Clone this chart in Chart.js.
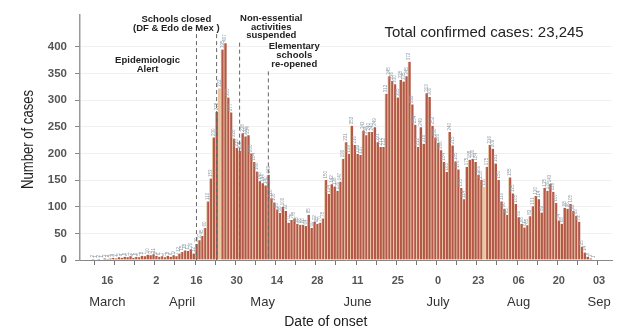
<!DOCTYPE html>
<html>
<head>
<meta charset="utf-8">
<script src="https://cdn.jsdelivr.net/npm/chart.js@4"></script>
<style>
  html, body { margin: 0; background: #fff; }
  #wrap { width: 621px; height: 328px; }
</style>
</head>
<body>
<div id="wrap"><canvas id="casesChart"></canvas></div>
<script>
/* Daily confirmed cases by date of onset, 7 Mar - 7 Sep */

const firstDay = new Date(2020, 2, 7);
const lastDay = new Date(2020, 8, 7);
const days = [];
for (let d = new Date(firstDay); d <= lastDay; d.setDate(d.getDate() + 1)) {
  days.push(d.getFullYear() + '-' + String(d.getMonth() + 1).padStart(2, '0') + '-' + String(d.getDate()).padStart(2, '0'));
}

// one value per day, starting 7 Mar
const cases = [
  // March 7-31
  0, 0, 0, 0, 2, 1, 2, 1, 3, 2, 3, 4, 3, 5, 4, 6, 5, 7, 4, 6, 5, 8, 7, 10, 9,
  // April
  11, 8, 6, 7, 5, 8, 6, 9, 7, 12, 15, 18, 17, 20, 12, 30, 37, 45, 60, 110,
  153, 230, 278, 322, 395, 407, 305, 277, 228, 210,
  // May
  205, 238, 232, 234, 200, 184, 166, 148, 144, 140, 160, 116, 108, 95, 88, 100,
  92, 70, 75, 78, 68, 66, 66, 64, 85, 60, 72, 68, 70, 78, 150,
  // June
  124, 142, 138, 130, 147, 190, 221, 199, 252, 216, 199, 197, 243, 234, 240,
  240, 249, 221, 212, 212, 312, 345, 336, 330, 305, 338, 335, 345, 372, 292,
  // July
  254, 212, 249, 218, 313, 306, 252, 230, 220, 206, 184, 165, 240, 215, 185,
  170, 135, 114, 175, 188, 190, 184, 160, 150, 137, 175, 216, 209, 181, 150, 110,
  // August
  96, 85, 155, 125, 105, 80, 68, 61, 65, 82, 101, 120, 114, 89, 135, 130,
  143, 128, 107, 74, 68, 98, 96, 105, 92, 83, 72, 25, 14, 6, 3,
  // September 1-7
  1, 0, 0, 0, 0, 0, 0
];

const lightBars = ['2020-04-24', '2020-07-25'];

const tickLabels = {
  '2020-03-16': '16', '2020-04-02': '2', '2020-04-16': '16', '2020-04-30': '30',
  '2020-05-14': '14', '2020-05-28': '28', '2020-06-11': '11', '2020-06-25': '25',
  '2020-07-09': '0', '2020-07-23': '23', '2020-08-06': '06', '2020-08-20': '20',
  '2020-09-03': '03'
};

const monthLabels = {
  '2020-03-16': 'March', '2020-04-11': 'April', '2020-05-09': 'May',
  '2020-06-11': 'June', '2020-07-09': 'July', '2020-08-06': 'Aug',
  '2020-09-03': 'Sep'
};

// dashed event lines: day and the value their top reaches
const eventDays = ['2020-04-16', '2020-04-23', '2020-05-01', '2020-05-11'];
const eventTops = [424, 424, 408, 354];

const notes = [
  { day: '2020-03-30', lines: ['Epidemiologic', 'Alert'], y: 374 },
  { day: '2020-04-09', lines: ['Schools closed', '(DF & Edo de Mex )'], y: 452 },
  { day: '2020-05-12', lines: ['Non-essential', 'activities', 'suspended'], y: 454 },
  { day: '2020-05-20', lines: ['Elementary', 'schools', 're-opened'], y: 400 }
];

const totalText = 'Total confirmed cases: 23,245';

const RED = '#b3574a';
const TAN = '#e9c6a0';
const FONT = "'Liberation Sans', Arial, sans-serif";

const isThursday = (s) => new Date(s + 'T12:00:00').getDay() === 4;

const extras = {
  id: 'extras',
  afterDatasetsDraw(chart) {
    const { ctx, scales: { x, y } } = chart;
    const meta = chart.getDatasetMeta(0);

    // little value labels over the bars
    ctx.save();
    ctx.fillStyle = '#8c9aa6';
    ctx.font = '4.5px ' + FONT;
    ctx.textAlign = 'left';
    ctx.textBaseline = 'middle';
    meta.data.forEach((bar, i) => {
      if (!cases[i]) return;
      ctx.save();
      ctx.translate(bar.x, bar.y - 1.5);
      ctx.rotate(-Math.PI / 2);
      ctx.fillText(String(cases[i]), 0, 0);
      ctx.restore();
    });
    ctx.restore();

    // dashed event lines
    ctx.save();
    ctx.strokeStyle = '#666';
    ctx.lineWidth = 1;
    ctx.setLineDash([4, 3]);
    eventDays.forEach((d, i) => {
      const px = x.getPixelForValue(days.indexOf(d));
      ctx.beginPath();
      ctx.moveTo(px, y.getPixelForValue(eventTops[i]));
      ctx.lineTo(px, y.getPixelForValue(0));
      ctx.stroke();
    });
    ctx.restore();

    // annotations
    ctx.save();
    ctx.fillStyle = '#222';
    ctx.font = 'bold 9.5px ' + FONT;
    ctx.textAlign = 'center';
    ctx.textBaseline = 'middle';
    notes.forEach(n => {
      const px = x.getPixelForValue(days.indexOf(n.day));
      const py = y.getPixelForValue(n.y);
      n.lines.forEach((t, k) => ctx.fillText(t, px, py + k * 8.8));
    });
    ctx.restore();

    // total
    ctx.save();
    ctx.fillStyle = '#222';
    ctx.font = '15px ' + FONT;
    ctx.textAlign = 'center';
    ctx.textBaseline = 'middle';
    ctx.fillText(totalText, x.getPixelForValue(days.indexOf('2020-07-25')), y.getPixelForValue(426));
    ctx.restore();

    // axis titles
    ctx.save();
    ctx.fillStyle = '#222';
    ctx.textAlign = 'center';
    ctx.textBaseline = 'middle';
    ctx.font = '16px ' + FONT;
    ctx.translate(29, (chart.chartArea.top + chart.chartArea.bottom) / 2 + 2);
    ctx.rotate(-Math.PI / 2);
    ctx.scale(0.82, 1);
    ctx.fillText('Number of cases', 0, 0);
    ctx.restore();

    ctx.save();
    ctx.fillStyle = '#222';
    ctx.textAlign = 'center';
    ctx.textBaseline = 'middle';
    ctx.font = '14px ' + FONT;
    ctx.fillText('Date of onset', x.getPixelForValue(days.indexOf('2020-05-31')), chart.height - 6);
    ctx.restore();
  }
};

const ctx = document.getElementById('casesChart').getContext('2d');
const casesChart = new Chart(ctx, {
  type: 'bar',
  data: {
    labels: days,
    datasets: [{
      label: 'Cases',
      data: cases,
      backgroundColor: days.map(d => lightBars.includes(d) ? TAN : RED),
      borderColor: TAN,
      borderWidth: { left: 1, right: 0, top: 0, bottom: 0 },
      borderSkipped: false,
      barPercentage: 1,
      categoryPercentage: 1
    }]
  },
  options: {
    responsive: true,
    maintainAspectRatio: false,
    animation: false,
    layout: { padding: { left: 0, right: 9, top: 10, bottom: 0 } },
    plugins: {
      legend: { display: false },
      tooltip: { enabled: false }
    },
    scales: {
      x: {
        type: 'category',
        weight: 0,
        afterFit: s => { s.height = 30; },
        border: { color: '#888', width: 1 },
        grid: {
          offset: true,
          drawOnChartArea: false,
          tickLength: 5,
          color: c => (c.tick && isThursday(days[c.index])) ? '#777' : 'transparent'
        },
        ticks: {
          autoSkip: false,
          maxRotation: 0,
          padding: 9,
          color: '#555',
          font: { family: FONT, size: 11, weight: 'bold' },
          callback: (v, i) => tickLabels[days[i]] || ''
        }
      },
      x2: {
        type: 'category',
        position: 'bottom',
        weight: 1,
        afterFit: s => { s.height = 38; },
        border: { display: false },
        grid: { display: false, drawTicks: false },
        ticks: {
          autoSkip: false,
          maxRotation: 0,
          padding: 5,
          color: '#333',
          font: { family: FONT, size: 13 },
          callback: (v, i) => monthLabels[days[i]] || ''
        }
      },
      y: {
        min: 0,
        max: 460,
        afterFit: s => { s.width = 80; },
        afterBuildTicks: s => { s.ticks = s.ticks.filter(t => t.value % 50 === 0); },
        border: { color: '#999', width: 1.5 },
        grid: {
          color: 'rgba(0,0,0,0.06)',
          tickColor: '#888',
          tickLength: 5
        },
        ticks: {
          stepSize: 50,
          padding: 8,
          color: '#555',
          font: { family: FONT, size: 11.5, weight: 'bold' }
        }
      }
    }
  },
  plugins: [extras]
});
</script>
</body>
</html>
